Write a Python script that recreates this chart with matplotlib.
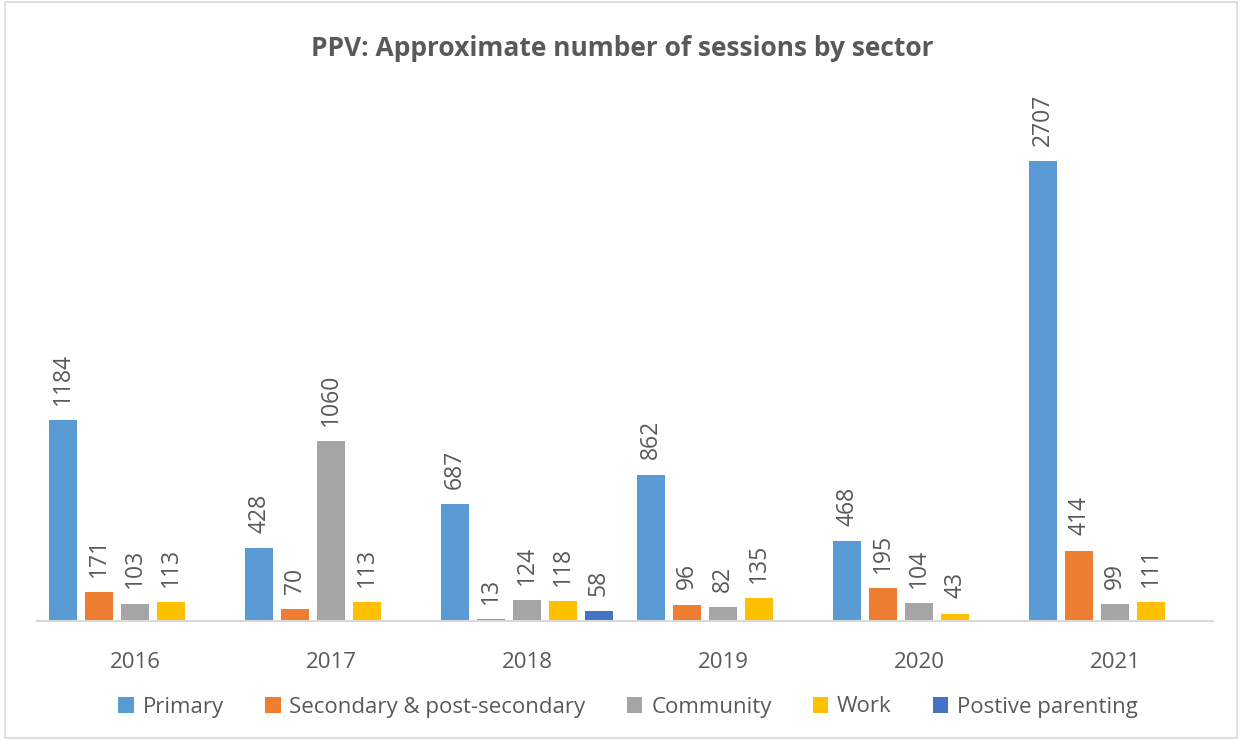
import matplotlib
matplotlib.use("Agg")
import matplotlib.pyplot as plt
from matplotlib.patches import Rectangle
import numpy as np

plt.rcParams['font.family'] = ['Open Sans', 'DejaVu Sans']

years = ["2016", "2017", "2018", "2019", "2020", "2021"]
series_names = ["Primary", "Secondary & post-secondary", "Community", "Work", "Postive parenting"]
primary = [1184, 428, 687, 862, 468, 2707]
secondary = [171, 70, 13, 96, 195, 414]
community = [103, 1060, 124, 82, 104, 99]
work = [113, 113, 118, 135, 43, 111]
positive = [0, 0, 58, 0, 0, 0]
colors = ["#5B9BD5", "#ED7D31", "#A5A5A5", "#FFC000", "#4472C4"]

W, H = 1244, 740
fig = plt.figure(figsize=(W / 100, H / 100), dpi=100)
fig.patch.set_facecolor("white")
fig.add_artist(Rectangle((5 / W, 2 / H), 1232 / W, 736 / H, transform=fig.transFigure,
                         fill=False, edgecolor="#d9d9d9", linewidth=1.2))

ax = fig.add_axes([37 / W, (H - 621) / H, 1176 / W, 510 / H])
ymax = 510 / 0.1699
ax.set_ylim(0, ymax)
ax.set_xlim(-0.5, len(years) - 0.5)

x = np.arange(len(years))
slot = 36 / 196
bw = 28 / 196
all_series = [primary, secondary, community, work, positive]
text_color = "#595959"
handles = []
for i, (vals, c, name) in enumerate(zip(all_series, colors, series_names)):
    pos = x + (i - 2) * slot
    bars = ax.bar(pos, vals, width=bw, color=c, label=name, zorder=2)
    handles.append(bars)
    for p, v in zip(pos, vals):
        if v > 0:
            ax.annotate(str(v), (p, v), xytext=(0, 11), textcoords="offset points",
                        rotation=90, ha="center", va="bottom", fontsize=16.5,
                        color=text_color, annotation_clip=False)

for s in ["top", "right", "left"]:
    ax.spines[s].set_visible(False)
ax.spines["bottom"].set_color("#d9d9d9")
ax.spines["bottom"].set_linewidth(1.5)
ax.set_yticks([])
ax.set_xticks(x)
ax.set_xticklabels(years, fontsize=16, color=text_color)
ax.tick_params(axis="x", length=0, pad=22)

fig.text(0.5, (H - 48) / H, "PPV: Approximate number of sessions by sector",
         ha="center", va="center", fontsize=19, fontweight="bold", color=text_color)

fig.legend(handles=handles, labels=series_names, loc="center", bbox_to_anchor=(0.505, (H - 707) / H),
           ncol=5, frameon=False, fontsize=16, labelcolor=text_color,
           handlelength=0.7, handleheight=0.7, handletextpad=0.4, columnspacing=1.85)

fig.savefig("out.png", dpi=100, facecolor="white")
